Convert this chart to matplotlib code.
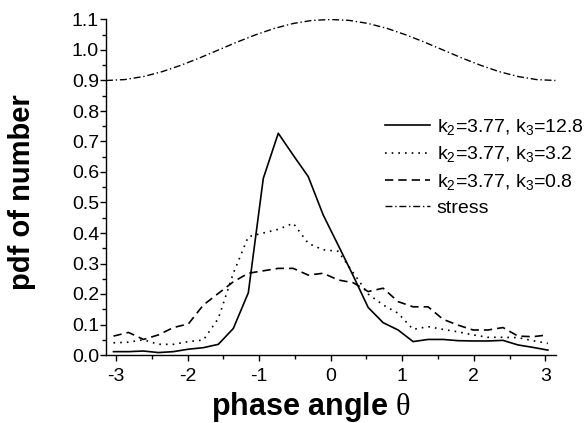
import numpy as np
import matplotlib
matplotlib.use('Agg')
import matplotlib.pyplot as plt
from matplotlib.ticker import MultipleLocator, FormatStrFormatter, FuncFormatter

plt.rcParams['font.family'] = ['Liberation Sans', 'DejaVu Sans']
plt.rcParams['mathtext.fontset'] = 'custom'
plt.rcParams['mathtext.rm'] = 'Liberation Sans'
plt.rcParams['mathtext.it'] = 'Liberation Sans'
plt.rcParams['mathtext.sf'] = 'Liberation Serif'

# 30 phase bins over [-pi, pi]
n_bins = 30
phase = -np.pi + (np.arange(n_bins) + 0.5) * 2 * np.pi / n_bins

pdf_k3_128 = [0.011, 0.011, 0.013, 0.008, 0.011, 0.019, 0.024, 0.035, 0.087, 0.204,
              0.579, 0.727, 0.655, 0.585, 0.459, 0.360, 0.260, 0.156, 0.106, 0.082,
              0.044, 0.051, 0.051, 0.047, 0.046, 0.046, 0.048, 0.033, 0.025, 0.016]
pdf_k3_32 = [0.040, 0.042, 0.050, 0.035, 0.035, 0.044, 0.049, 0.120, 0.268, 0.388,
             0.400, 0.412, 0.432, 0.366, 0.345, 0.340, 0.270, 0.200, 0.164, 0.137,
             0.084, 0.093, 0.084, 0.076, 0.066, 0.058, 0.058, 0.057, 0.047, 0.038]
pdf_k3_08 = [0.062, 0.074, 0.051, 0.066, 0.090, 0.102, 0.164, 0.202, 0.240, 0.268,
             0.276, 0.284, 0.284, 0.262, 0.268, 0.246, 0.237, 0.208, 0.219, 0.175,
             0.158, 0.158, 0.117, 0.098, 0.082, 0.082, 0.090, 0.062, 0.060, 0.066]

# stress curve sampled every pi/12
stress_phase = np.linspace(-np.pi, np.pi, 25)
stress = [0.900, 0.903, 0.913, 0.929, 0.950, 0.974, 1.000, 1.026, 1.050, 1.071,
          1.087, 1.097, 1.100, 1.097, 1.087, 1.071, 1.050, 1.026, 1.000, 0.974,
          0.950, 0.929, 0.913, 0.903, 0.900]

labels = ['k$_2$=3.77, k$_3$=12.8', 'k$_2$=3.77, k$_3$=3.2',
          'k$_2$=3.77, k$_3$=0.8', 'stress']

fig = plt.figure(figsize=(5.85, 4.23), dpi=100)
ax = fig.add_axes([106 / 585, 1 - 355 / 423, 450 / 585, 335.5 / 423])

ax.plot(phase, pdf_k3_128, color='black', lw=1.2, label=labels[0])
ax.plot(phase, pdf_k3_32, color='black', lw=1.2, linestyle=(0, (1, 3)), label=labels[1])
ax.plot(phase, pdf_k3_08, color='black', lw=1.2, linestyle=(0, (5, 3)), label=labels[2])
ax.plot(stress_phase, stress, color='black', lw=1.0, linestyle=(0, (5, 2, 1, 2)), label=labels[3])

ax.set_xlim(-np.pi, 3.15)
ax.set_ylim(0, 1.1)
ax.xaxis.set_major_locator(MultipleLocator(1))
ax.xaxis.set_minor_locator(MultipleLocator(0.5))
ax.yaxis.set_major_locator(MultipleLocator(0.1))
ax.yaxis.set_minor_locator(MultipleLocator(0.05))
ax.yaxis.set_major_formatter(FormatStrFormatter('%.1f'))
ax.xaxis.set_major_formatter(FuncFormatter(lambda v, p: '%d' % v))

for side in ['top', 'right']:
    ax.spines[side].set_visible(False)
for side in ['left', 'bottom']:
    ax.spines[side].set_linewidth(1.0)

ax.tick_params(which='major', direction='out', length=4.5, width=1.0, labelsize=14)
ax.tick_params(which='minor', direction='out', length=2.8, width=1.0)
ax.tick_params(axis='y', which='major', pad=0.5)
ax.tick_params(axis='x', which='major', pad=5)

ax.set_xlabel('phase angle $\\mathsf{\\theta}$', fontsize=22, fontweight='bold')
ax.set_ylabel('pdf of number', fontsize=21, fontweight='bold')
ax.xaxis.set_label_coords(0.456, -0.105)
ax.yaxis.set_label_coords(-0.155, 0.486)

fig.legend(loc='upper left', bbox_to_anchor=(385 / 585, 1 - 117 / 423), frameon=False,
           fontsize=14, handlelength=2.3, handletextpad=0.36, labelspacing=0.38,
           borderpad=0, borderaxespad=0)

fig.savefig('out.png', dpi=100, facecolor='white')
